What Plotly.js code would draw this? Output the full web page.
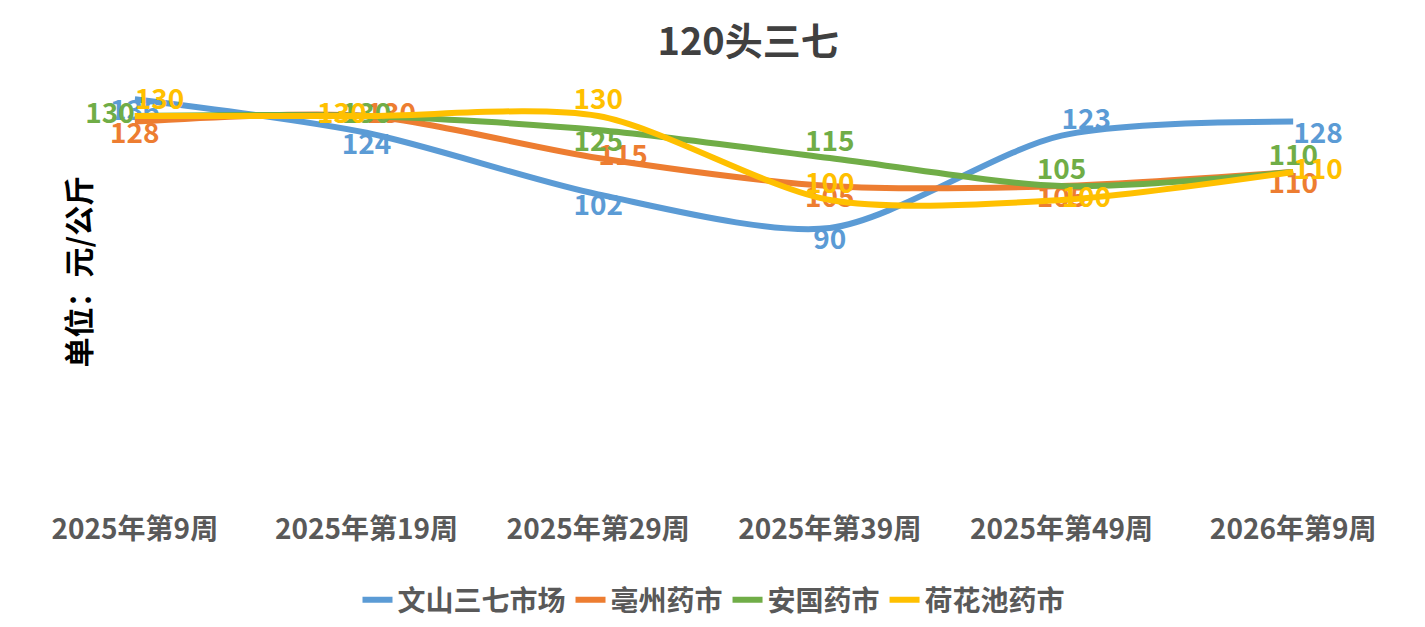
<!DOCTYPE html>
<html><head><meta charset="utf-8">
<script src="https://cdn.plot.ly/plotly-3.0.1.min.js"></script>
<style>body{margin:0}#c{width:1425px;height:627px}</style></head>
<body><div id="c"></div>
<script>
const categories=['2025年第9周','2025年第19周','2025年第29周','2025年第39周','2025年第49周','2026年第9周'];
const wenshan=[136,124,102,90,123,128];
const bozhou=[128,130,115,105,105,110];
const anguo=[130,130,125,115,105,110];
const hehuachi=[130,130,130,100,100,110];
const names=['文山三七市场','亳州药市','安国药市','荷花池药市'];
const colors=['#5B9BD5','#ED7D31','#70AD47','#FFC000'];
const pos=[
 ['bottom center','bottom center','bottom center','bottom center','top right','bottom right'],
 ['bottom center','middle right','middle right','bottom center','bottom center','bottom center'],
 ['middle left','middle center','bottom center','top center','top center','top center'],
 ['top right','middle left','top center','top center','middle right','middle right']];
const F='"Noto Sans CJK SC", "Open Sans", sans-serif';
const traces=[wenshan,bozhou,anguo,hehuachi].map((v,i)=>({
 x:categories,y:v,name:names[i],type:'scatter',mode:'lines+text',
 line:{color:colors[i],width:6,shape:'spline',smoothing:0.8},
 text:v.map(String),textposition:pos[i],cliponaxis:false,
 textfont:{family:F,size:28,color:colors[i],weight:'bold'}}));
Plotly.newPlot('c',traces,{
 width:1425,height:627,margin:{l:19,r:16,t:60,b:147},
 paper_bgcolor:'#fff',plot_bgcolor:'#fff',
 title:{text:'<b>120头三七</b>',x:0.525,y:0.955,font:{family:F,size:38,color:'#404040'}},
 xaxis:{type:'category',range:[-0.5,5.5],showgrid:false,zeroline:false,showline:false,ticks:'',
  ticklabelstandoff:30,tickfont:{family:F,size:28,color:'#595959',weight:'bold'}},
 yaxis:{range:[0,150],visible:false},
 showlegend:true,
 legend:{orientation:'h',x:0.5,xanchor:'center',yref:'container',y:0.043,yanchor:'middle',
  font:{family:F,size:28,color:'#595959',weight:'bold'}},
 annotations:[{text:'<b>单位：元/公斤</b>',xref:'paper',yref:'paper',x:0,y:0.73,
  xshift:34,textangle:-90,showarrow:false,font:{family:F,size:30,color:'#000'}}]
},{displayModeBar:false});
</script></body></html>
